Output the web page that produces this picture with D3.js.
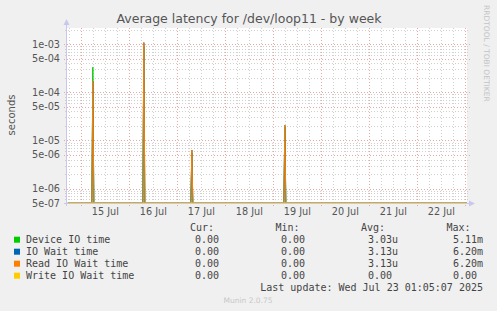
<!DOCTYPE html>
<html>
<head>
<meta charset="utf-8">
<script src="https://cdn.jsdelivr.net/npm/d3@7"></script>
<style>
  body { margin: 0; background: #f0f0f0; }
  svg { display: block; }
  text { font-family: "DejaVu Sans", sans-serif; }
  .mono { font-family: "DejaVu Sans Mono", monospace; font-size: 10px; fill: #444; }
</style>
</head>
<body>
<div id="chart"></div>
<script>
// samples (30 min steps), zero everywhere except the few spikes
const sampleTimes = [
  "2025-07-14 17:30",
  "2025-07-15 05:30", "2025-07-15 06:00", "2025-07-15 06:30",
  "2025-07-16 07:00", "2025-07-16 07:30", "2025-07-16 08:00",
  "2025-07-17 07:00", "2025-07-17 07:30", "2025-07-17 08:00",
  "2025-07-19 05:30", "2025-07-19 06:00", "2025-07-19 06:30",
  "2025-07-23 01:00"
];
const deviceIO   = [0, 0, 3.3e-4, 0, 0, 9.0e-4, 0, 0, 5.5e-6, 0, 0, 1.9e-5, 0, 0];
const ioWait     = [0, 0, 1.7e-4, 0, 0, 1.07e-3, 0, 0, 6.3e-6, 0, 0, 2.06e-5, 0, 0];
const readWait   = [0, 0, 1.7e-4, 0, 0, 1.07e-3, 0, 0, 6.3e-6, 0, 0, 2.06e-5, 0, 0];
const writeWait  = [0, 0, 0, 0, 0, 0, 0, 0, 0, 0, 0, 0, 0, 0];

const seriesNames  = ["Device IO time", "IO Wait time", "Read IO Wait time", "Write IO Wait time"];
const seriesColors = ["#00cc00", "#0066b3", "#ff8000", "#ffcc00"];
const curText = ["0.00", "0.00", "0.00", "0.00"];
const minText = ["0.00", "0.00", "0.00", "0.00"];
const avgText = ["3.03u", "3.13u", "3.13u", "0.00"];
const maxText = ["5.11m", "6.20m", "6.20m", "0.00"];

const xTickDays   = ["2025-07-15 12:00", "2025-07-16 12:00", "2025-07-17 12:00", "2025-07-18 12:00",
                     "2025-07-19 12:00", "2025-07-20 12:00", "2025-07-21 12:00", "2025-07-22 12:00"];
const xTickLabels = ["15 Jul", "16 Jul", "17 Jul", "18 Jul", "19 Jul", "20 Jul", "21 Jul", "22 Jul"];
const yTickValues = [5e-7, 1e-6, 5e-6, 1e-5, 5e-5, 1e-4, 5e-4, 1e-3];
const yTickLabels = ["5e-07", "1e-06", "5e-06", "1e-05", "5e-05", "1e-04", "5e-04", "1e-03"];

const width = 497, height = 311;
const pLeft = 67, pRight = 467, pTop = 28, pBottom = 203;
const parse = d3.utcParse("%Y-%m-%d %H:%M");
const tEnd = d3.utcParse("%Y-%m-%d %H:%M:%S")("2025-07-23 01:05:07");
const tStart = new Date(tEnd.getTime() - 720000 * 1000);
const yMin = 5e-7, yMax = 2.16e-3;

const x = d3.scaleUtc().domain([tStart, tEnd]).range([pLeft, pRight]);
const y = d3.scaleLog().domain([yMin, yMax]).range([pBottom, pTop]);
const yc = v => v <= yMin ? pBottom : y(v);

const svg = d3.select("#chart").append("svg").attr("width", width).attr("height", height);
svg.append("rect").attr("x", pLeft).attr("y", pTop).attr("width", pRight - pLeft).attr("height", pBottom - pTop).attr("fill", "#fff");

// grids
const minorY = [], majorY = [];
for (let e = -7; e <= -3; e++) {
  for (let m = 1; m <= 9; m++) {
    const v = m * Math.pow(10, e);
    if (v < yMin || v > yMax) continue;
    (m === 1 || m === 5 ? majorY : minorY).push(v);
  }
}
const hours = d3.utcHour.every(6).range(tStart, tEnd);
const minorX = hours.filter(d => d.getUTCHours() !== 0);
const majorX = hours.filter(d => d.getUTCHours() === 0);

const grid = svg.append("g").attr("fill", "none").attr("stroke-width", 1).attr("shape-rendering", "crispEdges");
grid.selectAll(".hm").data(minorY).enter().append("line")
  .attr("x1", pLeft - 2).attr("x2", pRight + 2)
  .attr("y1", d => Math.round(y(d)) + 0.5).attr("y2", d => Math.round(y(d)) + 0.5)
  .attr("stroke", "#cfcfcf").attr("stroke-dasharray", "1,2");
grid.selectAll(".vm").data(minorX).enter().append("line")
  .attr("x1", d => Math.round(x(d)) + 0.5).attr("x2", d => Math.round(x(d)) + 0.5)
  .attr("y1", pTop).attr("y2", pBottom + 2)
  .attr("stroke", "#cfcfcf").attr("stroke-dasharray", "1,2");
grid.selectAll(".hM").data(majorY).enter().append("line")
  .attr("x1", pLeft - 3).attr("x2", pRight + 3)
  .attr("y1", d => Math.round(y(d)) + 0.5).attr("y2", d => Math.round(y(d)) + 0.5)
  .attr("stroke", "#e8a8a8").attr("stroke-dasharray", "1,2");
grid.selectAll(".vM").data(majorX).enter().append("line")
  .attr("x1", d => Math.round(x(d)) + 0.5).attr("x2", d => Math.round(x(d)) + 0.5)
  .attr("y1", pTop).attr("y2", pBottom + 3)
  .attr("stroke", "#e8a8a8").attr("stroke-dasharray", "1,2");

// series lines
const allSeries = [deviceIO, ioWait, readWait, writeWait];
const line = d3.line().x(d => x(d[0])).y(d => yc(d[1]));
svg.append("g").selectAll("path").data(allSeries).enter().append("path")
  .attr("d", vals => line(vals.map((v, i) => [parse(sampleTimes[i]), v])))
  .attr("fill", "none")
  .attr("stroke", (d, i) => seriesColors[i])
  .attr("stroke-width", 1);

// axes lines + arrows
const axisCol = "#c8c8ee";
svg.append("line").attr("x1", pLeft - 0.5).attr("x2", pLeft - 0.5).attr("y1", pBottom + 3).attr("y2", pTop - 4)
  .attr("stroke", axisCol);
svg.append("path").attr("d", `M${pLeft - 3.5},${pTop - 3} L${pLeft - 0.5},${pTop - 9} L${pLeft + 2.5},${pTop - 3} Z`).attr("fill", axisCol);
svg.append("line").attr("x1", pLeft - 3).attr("x2", pRight + 3).attr("y1", pBottom + 0.5).attr("y2", pBottom + 0.5)
  .attr("stroke", axisCol);
svg.append("path").attr("d", `M${pRight + 2},${pBottom - 2.5} L${pRight + 8},${pBottom + 0.5} L${pRight + 2},${pBottom + 3.5} Z`).attr("fill", axisCol);

// tick labels via axes
const yAxis = d3.axisLeft(y).tickValues(yTickValues).tickSize(0).tickPadding(0)
  .tickFormat((d, i) => yTickLabels[i]);
svg.append("g").attr("transform", `translate(${pLeft - 7},0)`).call(yAxis)
  .call(g => g.select(".domain").remove())
  .selectAll("text").attr("font-family", "DejaVu Sans").attr("font-size", "9.7px").attr("fill", "#555");

const xAxis = d3.axisBottom(x).tickValues(xTickDays.map(parse)).tickSize(0).tickPadding(0)
  .tickFormat((d, i) => xTickLabels[i]);
svg.append("g").attr("transform", `translate(0,${pBottom + 5})`).call(xAxis)
  .call(g => g.select(".domain").remove())
  .selectAll("text").attr("font-family", "DejaVu Sans").attr("font-size", "9.7px").attr("fill", "#555");

// title and labels
svg.append("text").attr("x", 249).attr("y", 23).attr("text-anchor", "middle")
  .attr("font-size", "12.5px").attr("fill", "#555")
  .text("Average latency for /dev/loop11 - by week");
svg.append("text").attr("transform", "translate(15,115) rotate(-90)").attr("text-anchor", "middle")
  .attr("font-size", "10px").attr("fill", "#555").text("seconds");
svg.append("text").attr("transform", "translate(484,5) rotate(90)").attr("text-anchor", "start")
  .attr("font-size", "7.5px").attr("fill", "#c4c4c4").text("RRDTOOL / TOBI OETIKER");

// legend
const legendY = [239.7, 251.7, 263.7, 275.7];
svg.append("text").attr("class", "mono").attr("x", 190).attr("y", 231).text("Cur:");
svg.append("text").attr("class", "mono").attr("x", 275.5).attr("y", 231).text("Min:");
svg.append("text").attr("class", "mono").attr("x", 361).attr("y", 231).text("Avg:");
svg.append("text").attr("class", "mono").attr("x", 446.5).attr("y", 231).text("Max:");

const rows = svg.append("g").selectAll("g").data(seriesNames).enter().append("g");
rows.append("rect").attr("x", 14).attr("y", (d, i) => legendY[i] - 3).attr("width", 6).attr("height", 6)
  .attr("fill", (d, i) => seriesColors[i]);
rows.append("text").attr("class", "mono").attr("x", 26).attr("y", (d, i) => legendY[i] + 3.5).text(d => d);
rows.append("text").attr("class", "mono").attr("x", 219).attr("text-anchor", "end").attr("y", (d, i) => legendY[i] + 3.5).text((d, i) => curText[i]);
rows.append("text").attr("class", "mono").attr("x", 305).attr("text-anchor", "end").attr("y", (d, i) => legendY[i] + 3.5).text((d, i) => minText[i]);
rows.append("text").attr("class", "mono").attr("x", 368).attr("y", (d, i) => legendY[i] + 3.5).text((d, i) => avgText[i]);
rows.append("text").attr("class", "mono").attr("x", 453).attr("y", (d, i) => legendY[i] + 3.5).text((d, i) => maxText[i]);

svg.append("text").attr("class", "mono").attr("x", 483).attr("y", 291).attr("text-anchor", "end")
  .text("Last update: Wed Jul 23 01:05:07 2025");
svg.append("text").attr("x", 248).attr("y", 303).attr("text-anchor", "middle")
  .attr("font-size", "7.5px").attr("fill", "#c8c8c8").text("Munin 2.0.75");
</script>
</body>
</html>
